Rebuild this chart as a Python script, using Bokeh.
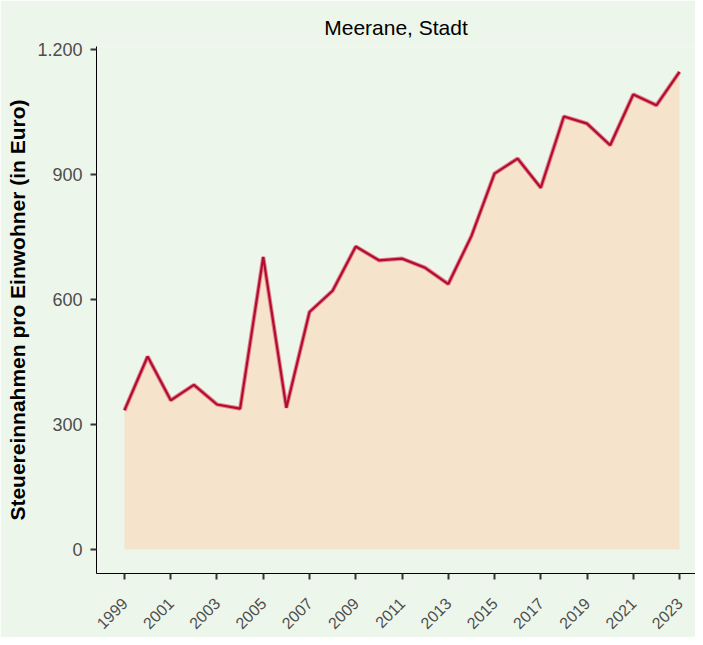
import math
from bokeh.plotting import figure
from bokeh.models import FixedTicker, Range1d
from bokeh.embed import file_html
from bokeh.resources import INLINE

years = list(range(1999, 2024))
values = [334, 463, 358, 395, 348, 338, 702, 340, 570, 621,
          727, 694, 698, 676, 637, 752, 902, 938, 868, 1039,
          1022, 970, 1092, 1066, 1146]
y_ticks = [0, 300, 600, 900, 1200]
y_tick_labels = ["0", "300", "600", "900", "1.200"]
x_ticks = list(range(1999, 2024, 2))
x_tick_labels = [str(y) for y in x_ticks]

title = "Meerane, Stadt"
y_title = "Steuereinnahmen pro Einwohner (in Euro)"

BG = "#EDF6EB"
FONT = "Liberation Sans"

p = figure(width=695, height=637, output_backend="svg", toolbar_location=None,
           x_range=Range1d(1997.79, 2023.69), y_range=Range1d(-57.6, 1207),
           min_border_left=96, min_border_right=0, min_border_top=46, min_border_bottom=64)
p.background_fill_color = BG
p.border_fill_color = BG
p.outline_line_color = None
p.grid.grid_line_color = None

p.title.text = title
p.title.align = "center"
p.title.text_font = FONT
p.title.text_font_size = "21px"
p.title.text_font_style = "normal"
p.title.text_color = "#000000"
p.title.standoff = 16

p.varea(x=years, y1=[0] * len(years), y2=values, fill_color="#F6E3CB")
p.line(x=years, y=values, line_color="#E28593", line_width=4.2)
p.line(x=years, y=values, line_color="#B20D2C", line_width=2.2)

for ax in (p.xaxis[0], p.yaxis[0]):
    ax.axis_line_color = "#000000"
    ax.axis_line_width = 1
    ax.major_tick_line_color = "#333333"
    ax.major_tick_line_width = 2
    ax.major_tick_in = 0
    ax.major_tick_out = 6
    ax.minor_tick_line_color = None
    ax.major_label_text_font = FONT
    ax.major_label_text_color = "#4D4D4D"

p.yaxis[0].major_label_text_font_size = "18px"
p.yaxis[0].ticker = FixedTicker(ticks=y_ticks)
p.yaxis[0].major_label_overrides = {t: l for t, l in zip(y_ticks, y_tick_labels)}
p.yaxis[0].axis_label = y_title
p.yaxis[0].axis_label_text_font = FONT
p.yaxis[0].axis_label_text_font_size = "21px"
p.yaxis[0].axis_label_text_font_style = "bold"
p.yaxis[0].axis_label_text_color = "#000000"
p.yaxis[0].major_label_standoff = 8

p.xaxis[0].major_label_text_font_size = "16px"
p.xaxis[0].ticker = FixedTicker(ticks=x_ticks)
p.xaxis[0].major_label_overrides = {t: l for t, l in zip(x_ticks, x_tick_labels)}
p.xaxis[0].major_label_orientation = math.pi / 4
p.xaxis[0].major_label_standoff = 21

open("out.html", "w").write(file_html(p, INLINE))
